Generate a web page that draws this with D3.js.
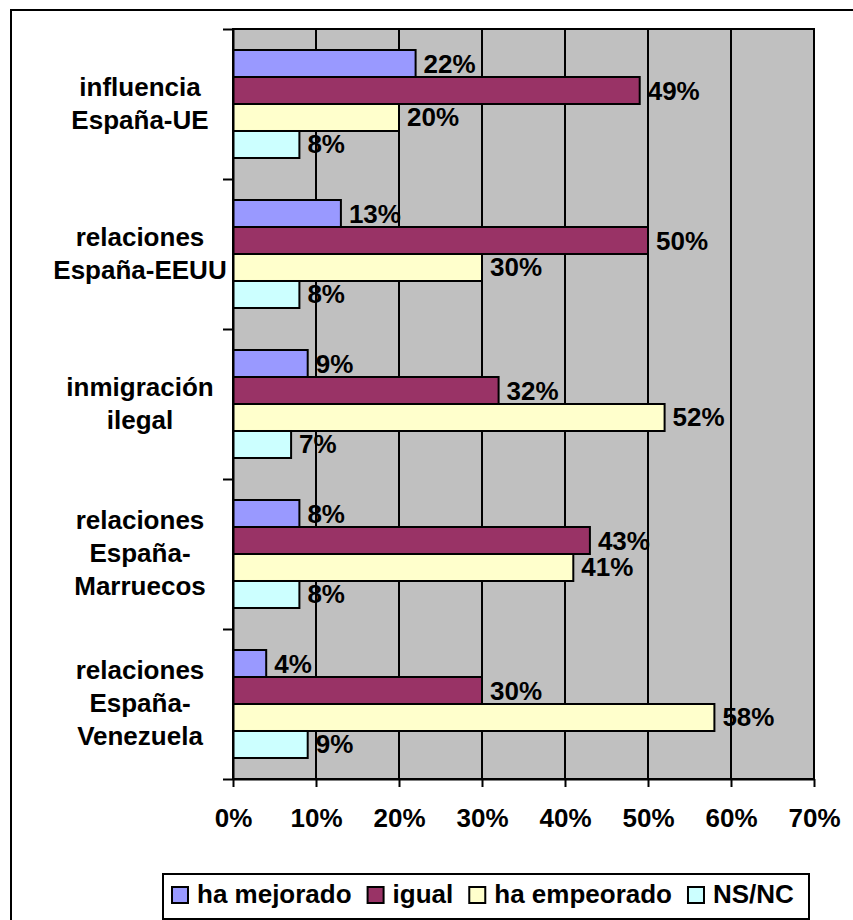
<!DOCTYPE html>
<html>
<head>
  <meta charset="utf-8">
  <title>Percepción de las relaciones</title>
  <script src="https://cdn.jsdelivr.net/npm/d3@7"></script>
  <style>
    body { margin: 0; background: #fff; }
    text { font-family: "Liberation Sans", Arial, sans-serif; font-weight: bold; fill: #000; }
  </style>
</head>
<body>
  <script>
    // Datos
    const categorias = [
      "influencia\nEspaña-UE",
      "relaciones\nEspaña-EEUU",
      "inmigración\nilegal",
      "relaciones\nEspaña-\nMarruecos",
      "relaciones\nEspaña-\nVenezuela"
    ];
    const series = ["ha mejorado", "igual", "ha empeorado", "NS/NC"];
    const haMejorado = [22, 13, 9, 8, 4];
    const igual = [49, 50, 32, 43, 30];
    const haEmpeorado = [20, 30, 52, 41, 58];
    const nsnc = [8, 8, 7, 8, 9];
    const xTicks = [0, 10, 20, 30, 40, 50, 60, 70];

    const valores = [haMejorado, igual, haEmpeorado, nsnc];
    const colores = ["#9999FF", "#993366", "#FFFFCC", "#CCFFFF"];

    const w = 853;
    const h = 920;
    const plot = { left: 233, right: 814, top: 29, bottom: 779 };

    const svg = d3.select("body")
      .append("svg")
      .attr("width", w)
      .attr("height", h);

    // marco exterior (recortado a la derecha y abajo)
    svg.append("rect")
      .attr("x", 11).attr("y", 10)
      .attr("width", 900).attr("height", 950)
      .attr("fill", "#fff")
      .attr("stroke", "#000")
      .attr("stroke-width", 2);

    const xScale = d3.scaleLinear()
      .domain([0, 70])
      .range([plot.left, plot.right]);

    const yScale = d3.scaleBand()
      .domain(categorias)
      .range([plot.top, plot.bottom]);

    const ySub = d3.scaleBand()
      .domain(series)
      .range([0, yScale.bandwidth()])
      .paddingInner(0)
      .paddingOuter(0.778);

    // fondo gris
    svg.append("rect")
      .attr("x", plot.left).attr("y", plot.top)
      .attr("width", plot.right - plot.left)
      .attr("height", plot.bottom - plot.top)
      .attr("fill", "#C0C0C0");

    // lineas de cuadricula
    svg.selectAll("line.grid")
      .data(xTicks.slice(1))
      .enter()
      .append("line")
      .attr("class", "grid")
      .attr("x1", d => xScale(d)).attr("x2", d => xScale(d))
      .attr("y1", plot.top).attr("y2", plot.bottom)
      .attr("stroke", "#000")
      .attr("stroke-width", 2);

    svg.append("rect")
      .attr("x", plot.left).attr("y", plot.top)
      .attr("width", plot.right - plot.left)
      .attr("height", plot.bottom - plot.top)
      .attr("fill", "none")
      .attr("stroke", "#000")
      .attr("stroke-width", 2);

    // barras
    const grupos = svg.selectAll("g.serie")
      .data(series)
      .enter()
      .append("g")
      .attr("class", "serie");

    grupos.selectAll("rect")
      .data((s, si) => valores[si].map((v, i) => ({ s: s, si: si, cat: categorias[i], v: v })))
      .enter()
      .append("rect")
      .attr("x", xScale(0))
      .attr("y", d => yScale(d.cat) + ySub(d.s))
      .attr("width", d => xScale(d.v) - xScale(0))
      .attr("height", ySub.bandwidth())
      .attr("fill", d => colores[d.si])
      .attr("stroke", "#000")
      .attr("stroke-width", 2);

    // etiquetas de valor
    grupos.selectAll("text")
      .data((s, si) => valores[si].map((v, i) => ({ s: s, cat: categorias[i], v: v })))
      .enter()
      .append("text")
      .attr("x", d => xScale(d.v) + 8)
      .attr("y", d => yScale(d.cat) + ySub(d.s) + ySub.bandwidth() / 2 + 9)
      .attr("font-size", "26px")
      .text(d => d.v + "%");

    // eje x
    const xAxis = svg.append("g")
      .attr("transform", "translate(0," + plot.bottom + ")")
      .call(d3.axisBottom(xScale).tickValues(xTicks).tickSize(8).tickSizeOuter(0).tickFormat(d => d + "%"));
    xAxis.selectAll("path, line").attr("stroke", "#000").attr("stroke-width", 2);
    xAxis.selectAll("text")
      .attr("y", 48).attr("dy", 0)
      .attr("font-size", "26px")
      .attr("font-family", null);

    // eje y (marcas entre categorias)
    const idx = d3.scaleLinear().domain([0, categorias.length]).range([plot.top, plot.bottom]);
    const yAxis = svg.append("g")
      .attr("transform", "translate(" + plot.left + ",0)")
      .call(d3.axisLeft(idx).tickValues(d3.range(categorias.length + 1)).tickSize(10).tickSizeOuter(0).tickFormat(""));
    yAxis.selectAll("path, line").attr("stroke", "#000").attr("stroke-width", 2);

    // etiquetas de categoria
    svg.selectAll("text.cat")
      .data(categorias)
      .enter()
      .append("text")
      .attr("class", "cat")
      .attr("text-anchor", "middle")
      .attr("font-size", "26px")
      .each(function (d) {
        const lineas = d.split("\n");
        const cy = yScale(d) + yScale.bandwidth() / 2;
        d3.select(this).selectAll("tspan")
          .data(lineas)
          .enter()
          .append("tspan")
          .attr("x", 140)
          .attr("y", (l, i) => cy + (i - (lineas.length - 1) / 2) * 33 + 8)
          .text(l => l);
      });

    // leyenda
    const leyenda = svg.append("g");
    leyenda.append("rect")
      .attr("x", 163).attr("y", 874)
      .attr("width", 646).attr("height", 45)
      .attr("fill", "#fff")
      .attr("stroke", "#000")
      .attr("stroke-width", 2);

    let lx = 172;
    series.forEach(function (s, i) {
      leyenda.append("rect")
        .attr("x", lx).attr("y", 887)
        .attr("width", 16).attr("height", 16)
        .attr("fill", colores[i])
        .attr("stroke", "#000")
        .attr("stroke-width", 2);
      const t = leyenda.append("text")
        .attr("x", lx + 25).attr("y", 903)
        .attr("font-size", "26px")
        .text(s);
      lx = lx + 25 + t.node().getComputedTextLength() + 16;
    });
  </script>
</body>
</html>
